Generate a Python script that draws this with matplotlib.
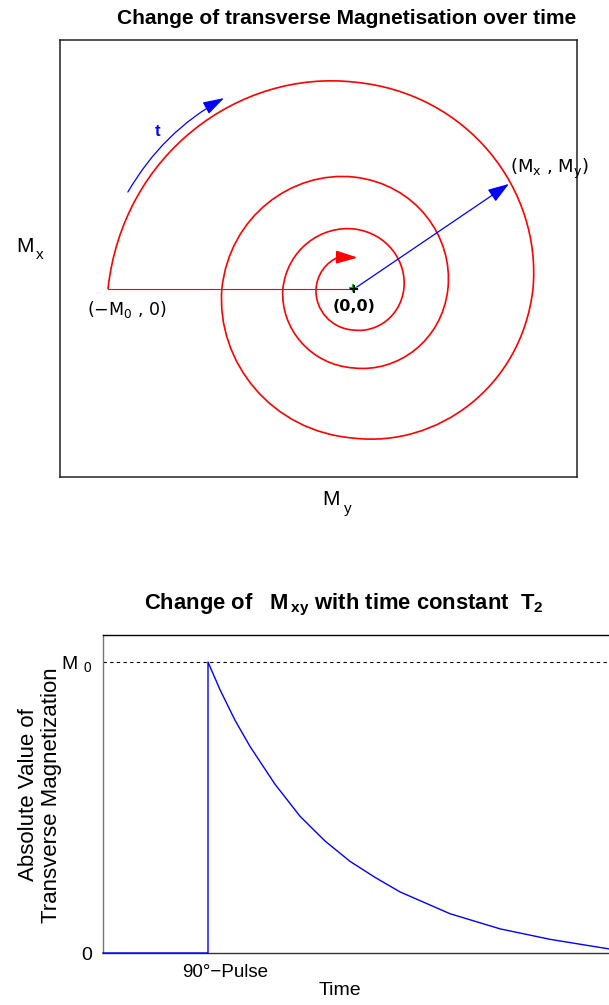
import numpy as np
import matplotlib
matplotlib.use('Agg')
import matplotlib.pyplot as plt
from matplotlib.path import Path
from matplotlib.patches import PathPatch, FancyArrowPatch

plt.rcParams['font.family'] = ['Liberation Sans', 'DejaVu Sans']
plt.rcParams['mathtext.fontset'] = 'custom'
plt.rcParams['mathtext.rm'] = 'DejaVu Sans'
plt.rcParams['mathtext.it'] = 'DejaVu Sans:italic'
plt.rcParams['mathtext.bf'] = 'Liberation Sans:bold'
plt.rcParams['mathtext.sf'] = 'Liberation Sans'

# ---------------- data ----------------
# spiral: polar angle (deg) and radius (in units of M0) at each quarter turn
spiral_angle_deg = [180, 90, 0, -90, -180, -270, -360, -450, -540, -630, -720, -810, -900, -964]
spiral_radius = [1.000, 0.841, 0.728, 0.606, 0.537, 0.455, 0.382, 0.321, 0.289, 0.244, 0.203, 0.167, 0.154, 0.144]
vector_tip = (0.630, 0.427)          # (My, Mx) end of the blue vector

# decay of |Mxy| after the 90° pulse
pulse_time = 1.05
decay_time = [0.0, 1.05, 1.05, 1.17, 1.32, 1.47, 1.72, 1.97, 2.22, 2.47, 2.72, 2.97,
              3.47, 3.97, 4.47, 5.06, 5.10]
decay_value = [0.0, 0.0, 1.000, 0.905, 0.800, 0.710, 0.580, 0.470, 0.385, 0.315, 0.260,
               0.210, 0.135, 0.083, 0.047, 0.014, 0.013]
ytick_pos = [0.0, 1.0]
ytick_labels = ['0', r'M$_{\mathsf{\;\,0}}$']
xtick_label = '90°−Pulse'

W, H = 609, 1005
fig = plt.figure(figsize=(W / 100, H / 100), dpi=100)


def fx(x):
    return x / W


def fy(y):
    return 1 - y / H


# ---------------- top panel ----------------
ax1 = fig.add_axes([fx(60), fy(477), fx(577) - fx(60), fy(40) - fy(477)])
ax1.set_xlim(-1.195, 0.907)
ax1.set_ylim(-0.764, 1.012)
ax1.set_xticks([])
ax1.set_yticks([])
for s in ax1.spines.values():
    s.set_color('#222222')
    s.set_linewidth(1.1)

verts = []
codes = []
ang = np.radians(spiral_angle_deg)
for i in range(len(ang) - 1):
    a0, a1 = ang[i], ang[i + 1]
    r0, r1 = spiral_radius[i], spiral_radius[i + 1]
    dphi = a0 - a1
    k = np.log(r1 / r0) / dphi
    p0 = np.array([r0 * np.cos(a0), r0 * np.sin(a0)])
    p3 = np.array([r1 * np.cos(a1), r1 * np.sin(a1)])
    d0 = r0 * (k * np.array([np.cos(a0), np.sin(a0)]) + np.array([np.sin(a0), -np.cos(a0)]))
    d3 = r1 * (k * np.array([np.cos(a1), np.sin(a1)]) + np.array([np.sin(a1), -np.cos(a1)]))
    c = 4.0 / 3.0 * np.tan(dphi / 4.0)
    if i == 0:
        verts.append(p0)
        codes.append(Path.MOVETO)
    verts += [p0 + c * d0, p3 - c * d3, p3]
    codes += [Path.CURVE4] * 3
spiral = PathPatch(Path(verts, codes), facecolor='none', edgecolor='red', lw=1.2)
ax1.add_patch(spiral)

# arrow head at the end of the spiral
end = np.array([spiral_radius[-1] * np.cos(ang[-1]), spiral_radius[-1] * np.sin(ang[-1])])
ax1.add_patch(FancyArrowPatch(end, (end[0] + 0.078, end[1] - 0.002),
                              arrowstyle='-|>,head_length=0.65,head_width=0.2',
                              mutation_scale=20, color='red', lw=1.2,
                              shrinkA=0, shrinkB=0))

# thin line from (-M0,0) to origin
ax1.plot([-spiral_radius[0], 0], [0, 0], color='red', lw=0.8)

# blue vector
ax1.add_patch(FancyArrowPatch((0, 0), vector_tip,
                              arrowstyle='-|>,head_length=0.65,head_width=0.22',
                              mutation_scale=20, color='blue', lw=0.9,
                              shrinkA=0, shrinkB=0))
# time arrow
ax1.add_patch(FancyArrowPatch((-0.919, 0.394), (-0.528, 0.776),
                              connectionstyle='arc3,rad=-0.14',
                              arrowstyle='-|>,head_length=0.65,head_width=0.2',
                              mutation_scale=20, color='blue', lw=0.9,
                              shrinkA=0, shrinkB=0))
ax1.text(-0.797, 0.642, 't', color='blue', fontweight='bold', fontsize=12,
         ha='center', va='center')

# origin markers
ax1.plot([-0.004], [0.006], marker='+', color='#00cc00', ms=6, mew=1.5)
ax1.plot([0], [0], marker='+', color='black', ms=6, mew=1.5)

ax1.text(-1.085, -0.085, r'(−M$_0$ , 0)', fontsize=12.5, family='DejaVu Sans',
         ha='left', va='center')
ax1.text(0.0, -0.07, '(0,0)', fontsize=11.5, family='DejaVu Sans', fontweight='bold',
         ha='center', va='center')
ax1.text(0.633, 0.49, r'(M$_{\mathrm{x}}$ , M$_{\mathrm{y}}$)', fontsize=13, family='DejaVu Sans',
         ha='left', va='center')

fig.text(fx(347), fy(18), 'Change of transverse Magnetisation over time',
         fontsize=15, fontweight='bold', ha='center', va='center')
fig.text(fx(25), fy(246), 'M', fontsize=15, ha='center', va='center')
fig.text(fx(40), fy(255), 'x', fontsize=11, ha='center', va='center')
fig.text(fx(331), fy(499), 'M', fontsize=15, ha='center', va='center')
fig.text(fx(348), fy(509), 'y', fontsize=11, ha='center', va='center')

# ---------------- bottom panel ----------------
ax2 = fig.add_axes([fx(103), fy(953), fx(613) - fx(103), fy(635) - fy(953)])
ax2.set_xlim(0, 5.1)
ax2.set_ylim(0, 1.093)
ax2.plot(decay_time, decay_value, color='blue', lw=1.0, clip_on=False, zorder=5)
ax2.axhline(1.0, color='black', lw=0.8, ls=(0, (3, 3)))
ax2.set_yticks(ytick_pos)
ax2.set_yticklabels(ytick_labels, fontsize=14)
ax2.set_xticks([pulse_time + 0.17])
ax2.set_xticklabels([xtick_label], fontsize=13.5)
ax2.tick_params(length=0, pad=8)
ax2.spines['left'].set_color('#777777')
ax2.spines['bottom'].set_color('#333333')
ax2.spines['top'].set_color('black')
for s in ax2.spines.values():
    s.set_linewidth(1.0)

fig.text(fx(344), fy(605), r'Change of   M$_{\mathbf{\,xy}}$ with time constant  T$_{\mathbf{2}}$',
         fontsize=15.8, fontweight='bold', ha='center', va='center')
fig.text(fx(40), fy(795), 'Absolute Value of\nTransverse Magnetization', fontsize=16,
         rotation=90, ha='center', va='center', linespacing=1.1)
fig.text(fx(340), fy(990), 'Time', fontsize=14, ha='center', va='center')

fig.savefig('out.png', dpi=100, facecolor='white')
